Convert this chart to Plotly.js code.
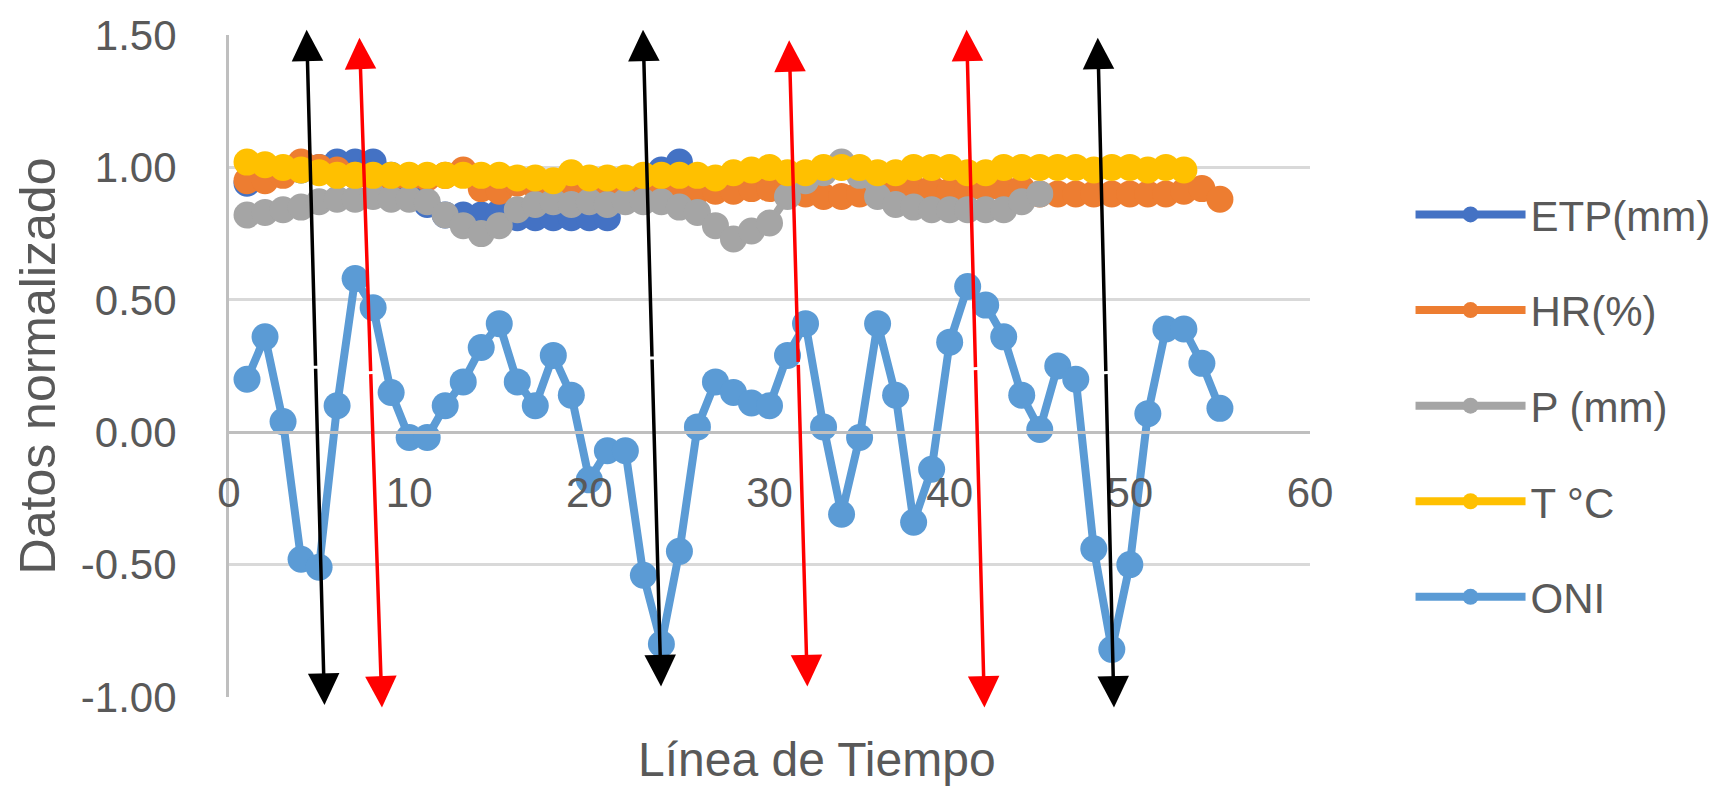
<!DOCTYPE html>
<html><head><meta charset="utf-8">
<script src="https://cdn.plot.ly/plotly-3.0.1.min.js"></script>
<style>html,body{margin:0;padding:0;background:#fff;}#chart{width:1728px;height:789px;}</style>
</head><body><div id="chart"></div>
<script>
// Series values (normalized data), index = time step starting at 1
const etp = [0.94,0.96,0.98,0.99,1.00,1.02,1.02,1.02,0.97,0.92,0.86,0.82,0.82,0.82,0.83,0.81,0.81,0.81,0.81,0.81,0.81,0.88,0.95,0.99,1.02];
const hr = [0.95,0.95,0.97,1.02,1.00,0.99,0.97,0.96,0.96,0.96,0.96,0.97,0.99,0.92,0.91,0.94,0.93,0.90,0.90,0.92,
            0.94,0.92,0.92,0.93,0.93,0.91,0.91,0.91,0.92,0.92,0.94,0.90,0.89,0.89,0.90,0.91,0.93,0.92,0.92,0.91,
            0.92,0.92,0.92,0.92,0.90,0.90,0.90,0.90,0.90,0.90,0.90,0.90,0.91,0.92,0.88];
const p = [0.82,0.83,0.84,0.85,0.87,0.88,0.88,0.89,0.88,0.88,0.87,0.82,0.78,0.75,0.78,0.84,0.86,0.87,0.86,0.87,
           0.86,0.87,0.87,0.87,0.85,0.83,0.78,0.73,0.76,0.79,0.89,0.95,0.98,1.02,0.97,0.89,0.86,0.85,0.84,0.84,
           0.84,0.84,0.84,0.87,0.90];
const t = [1.02,1.01,1.00,0.99,0.98,0.97,0.97,0.97,0.97,0.97,0.97,0.97,0.97,0.97,0.97,0.96,0.96,0.95,0.98,0.96,
           0.96,0.96,0.97,0.97,0.97,0.97,0.96,0.98,0.99,1.00,0.98,0.98,1.00,1.00,1.00,0.98,0.98,1.00,1.00,1.00,
           0.98,0.98,1.00,1.00,1.00,1.00,1.00,0.99,1.00,1.00,0.99,1.00,0.99];
const oni = [0.20,0.36,0.04,-0.48,-0.51,0.10,0.58,0.47,0.15,-0.02,-0.02,0.10,0.19,0.32,0.41,0.19,0.10,0.29,0.14,-0.18,
             -0.07,-0.07,-0.54,-0.80,-0.45,0.02,0.19,0.15,0.11,0.10,0.29,0.41,0.02,-0.31,-0.02,0.41,0.14,-0.34,-0.14,0.34,
             0.55,0.48,0.36,0.14,0.01,0.25,0.20,-0.44,-0.82,-0.50,0.07,0.39,0.39,0.26,0.09];

const seriesNames = ['ETP(mm)','HR(%)','P (mm)','T °C','ONI'];
const seriesColors = ['#4472C4','#ED7D31','#A5A5A5','#FFC000','#5B9BD5'];
const seriesValues = [etp, hr, p, t, oni];

const yTickVals = [-1.0,-0.5,0.0,0.5,1.0,1.5];
const yTickText = ['-1.00','-0.50','0.00','0.50','1.00','1.50'];
const xTickVals = [0,10,20,30,40,50,60];

// Double-headed arrows (event markers): top and bottom ends in data units
const arrowTopX = [4.31, 7.24, 22.98, 31.09, 40.94, 48.22];
const arrowTopY = [1.52, 1.49, 1.52, 1.48, 1.52, 1.49];
const arrowBotX = [5.30, 8.49, 23.98, 32.10, 41.93, 49.12];
const arrowBotY = [-1.03, -1.04, -0.96, -0.96, -1.04, -1.04];
const arrowColors = ['#000000','#FF0000','#000000','#FF0000','#FF0000','#000000'];

const FONT = 'Liberation Sans, Arial, sans-serif';
const TXT = '#595959';

const traces = seriesValues.map((vals, k) => ({
  type: 'scatter', mode: 'lines+markers',
  name: seriesNames[k], legendgroup: 'g' + k,
  x: vals.map((_, i) => i + 1), y: vals,
  line: {color: seriesColors[k], width: 8},
  marker: {color: seriesColors[k], size: 27},
  cliponaxis: false
}));

const annotations = [];
arrowTopX.forEach((tx, i) => {
  const mx = (tx + arrowBotX[i]) / 2, my = (arrowTopY[i] + arrowBotY[i]) / 2;
  const common = {xref:'x', yref:'y', axref:'x', ayref:'y', text:'', showarrow:true,
    arrowhead:2, arrowsize:1.8, arrowwidth:3.5, arrowcolor: arrowColors[i], standoff:0, startstandoff:0};
  annotations.push(Object.assign({x: tx, y: arrowTopY[i], ax: mx, ay: my}, common));
  annotations.push(Object.assign({x: arrowBotX[i], y: arrowBotY[i], ax: mx, ay: my}, common));
});
annotations.push({text:'Línea de Tiempo', xref:'paper', yref:'paper', x:0.5437, y:-0.094,
  xanchor:'center', yanchor:'middle', showarrow:false, font:{family:FONT, size:48, color:TXT}});

const layout = {
  width: 1728, height: 789,
  margin: {l:229, r:412, t:35, b:92},
  paper_bgcolor:'#ffffff', plot_bgcolor:'#ffffff',
  font: {family: FONT, color: TXT, size: 42},
  showlegend: true,
  legend: {x: 1.093, xanchor:'left', y: 0.78, yanchor:'top', traceorder:'grouped',
    itemwidth: 110, tracegroupgap: 38, font:{family:FONT, size:42, color:TXT}, bgcolor:'rgba(0,0,0,0)'},
  xaxis: {range:[0,60], tickvals: xTickVals, anchor:'free', position:0.4,
    showline:true, linecolor:'#BFBFBF', linewidth:3, showgrid:false, zeroline:false,
    ticks:'', ticklabelstandoff: 22, tickfont:{family:FONT, size:42, color:TXT}},
  yaxis: {range:[-1,1.5], tickvals: yTickVals, ticktext: yTickText,
    showgrid:true, gridcolor:'#D9D9D9', gridwidth:3,
    zeroline:true, zerolinecolor:'#BFBFBF', zerolinewidth:3,
    showline:true, linecolor:'#BFBFBF', linewidth:3, ticks:'', ticklabelstandoff: 41,
    tickfont:{family:FONT, size:42, color:TXT},
    title:{text:'Datos normalizado', font:{family:FONT, size:50, color:TXT}, standoff: 10}},
  annotations: annotations
};

Plotly.newPlot('chart', traces, layout, {displayModeBar:false, staticPlot:true});
</script>
</body></html>
